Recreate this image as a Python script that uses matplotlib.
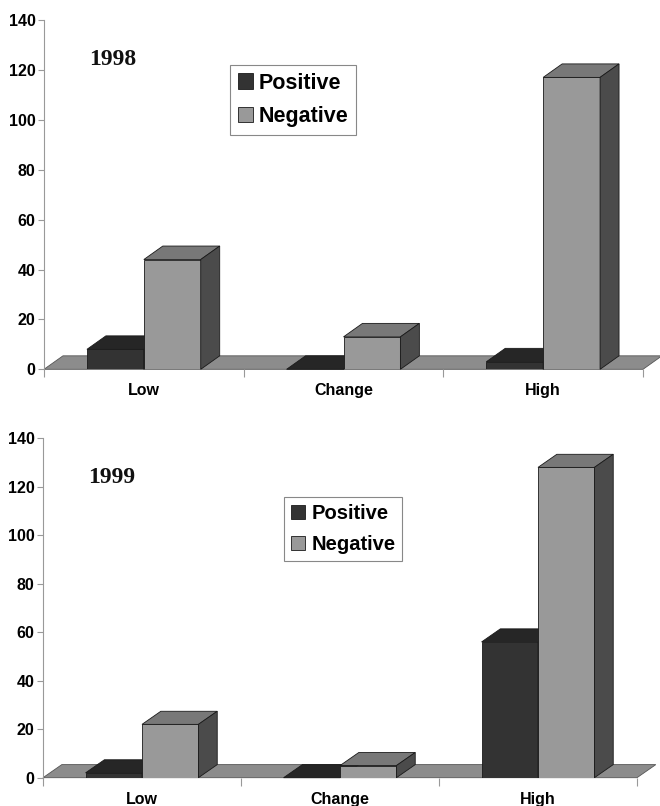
import matplotlib
matplotlib.use("Agg")
import matplotlib.pyplot as plt
from matplotlib.patches import Polygon, Patch

plt.rcParams["font.family"] = ["Liberation Sans", "DejaVu Sans"]
plt.rcParams["font.weight"] = "bold"

# Counts per category for each year
categories = ["Low", "Change", "High"]
positive_1998 = [8, 0, 3]
negative_1998 = [44, 13, 117]
positive_1999 = [2, 0, 56]
negative_1999 = [22, 5, 128]

# colours: front, top, side
POS = ("#333333", "#262626", "#1c1c1c")
NEG = ("#999999", "#787878", "#4b4b4b")
FLOOR = "#8c8c8c"
EDGE = "#1a1a1a"

# 3D offset of the back faces (x in category units, y in data units)
DX, DY = 0.095, 5.4
BAR_W = 0.285
POS_OFF = 0.215


def bar3d(ax, x0, h, cols):
    ax.bar(x0, h, width=BAR_W, align="edge", color=cols[0],
           edgecolor=EDGE, linewidth=0.6, zorder=3)
    x1 = x0 + BAR_W
    top = [(x0, h), (x1, h), (x1 + DX, h + DY), (x0 + DX, h + DY)]
    side = [(x1, 0), (x1 + DX, DY), (x1 + DX, h + DY), (x1, h)]
    ax.add_patch(Polygon(top, closed=True, fc=cols[1], ec=EDGE, lw=0.6,
                         zorder=3, clip_on=False))
    ax.add_patch(Polygon(side, closed=True, fc=cols[2], ec=EDGE, lw=0.6,
                         zorder=3, clip_on=False))


def panel(ax, pos, neg, year, legend_xy, legend_size):
    n = len(categories)
    floor = [(0, 0), (n, 0), (n + DX, DY), (DX, DY)]
    ax.add_patch(Polygon(floor, closed=True, fc=FLOOR, ec="#555555",
                         lw=0.6, zorder=1, clip_on=False))
    for i in range(n):
        bar3d(ax, i + POS_OFF, pos[i], POS)
        bar3d(ax, i + POS_OFF + BAR_W, neg[i], NEG)

    ax.set_xlim(0, n)
    ax.set_ylim(0, 140)
    ax.set_yticks(range(0, 141, 20))
    ax.set_xticks(range(n + 1))
    ax.set_xticklabels([])
    ax.set_xticks([i + 0.5 for i in range(n)], minor=True)
    ax.set_xticklabels(categories, minor=True, fontsize=11.5,
                       fontweight="bold")
    ax.tick_params(axis="x", which="major", length=6, color="#999999",
                   direction="out")
    ax.tick_params(axis="x", which="minor", length=0, pad=10)
    ax.tick_params(axis="y", length=4, color="#999999", labelsize=11.5,
                   pad=2)
    for lbl in ax.get_yticklabels():
        lbl.set_fontweight("bold")
    for s in ("top", "right", "bottom"):
        ax.spines[s].set_visible(False)
    ax.spines["left"].set_color("#999999")
    ax.spines["left"].set_linewidth(0.8)

    ax.text(0.115, 124, year, transform=ax.get_yaxis_transform(),
            ha="center", va="center", fontsize=17, fontweight="bold",
            family="Liberation Serif", color="#111111")

    handles = [Patch(fc=POS[0], ec=EDGE, lw=0.6, label="Positive"),
               Patch(fc=NEG[0], ec=EDGE, lw=0.6, label="Negative")]
    fig = ax.figure
    leg = fig.legend(handles=handles, loc="upper left",
                     bbox_to_anchor=(legend_xy[0] / 660, 1 - legend_xy[1] / 806),
                     bbox_transform=fig.transFigure, fancybox=False,
                     edgecolor="#888888", framealpha=1, borderaxespad=0,
                     handlelength=0.7, handleheight=0.7, handletextpad=0.3,
                     borderpad=0.35, labelspacing=0.6,
                     prop={"size": legend_size, "weight": "bold"})
    leg.get_frame().set_linewidth(0.8)


fig = plt.figure(figsize=(6.6, 8.06), dpi=100)
ax1 = fig.add_axes([44 / 660, 1 - 369.3 / 806, 599 / 660, 349.3 / 806])
ax2 = fig.add_axes([43 / 660, 1 - 777.7 / 806, 594 / 660, 339.4 / 806])

panel(ax1, positive_1998, negative_1998, "1998", (230, 65), 15.5)
panel(ax2, positive_1999, negative_1999, "1999", (284, 497), 14.5)

fig.savefig("out.png", dpi=100)
